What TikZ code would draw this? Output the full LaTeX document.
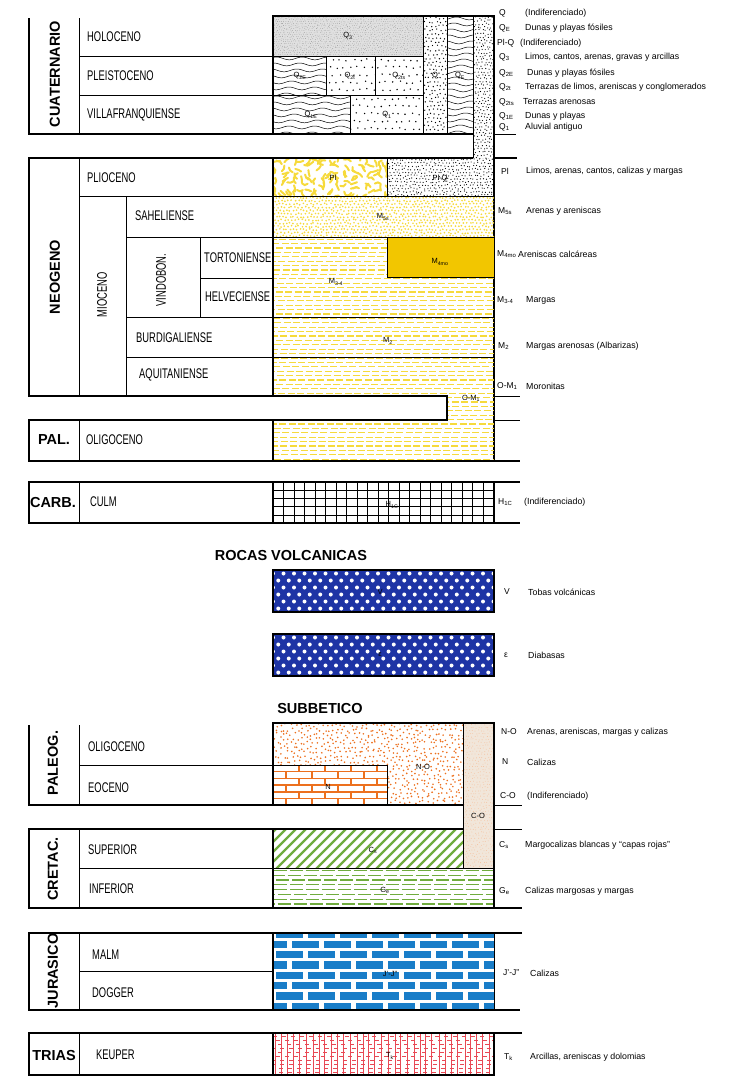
\documentclass[tikz,border=0pt]{standalone}
\usepackage{fontspec}
\setmainfont{Liberation Sans}
\newfontfamily\condfont[FakeStretch=0.67]{Liberation Sans}

\definecolor{ylw}{RGB}{246,218,60}
\definecolor{ylwsolid}{RGB}{242,198,0}
\definecolor{volcblue}{RGB}{30,52,165}
\definecolor{jurblue}{RGB}{25,125,200}
\definecolor{orng}{RGB}{236,112,30}
\definecolor{grn}{RGB}{112,172,62}
\definecolor{trred}{RGB}{232,72,84}
\definecolor{cobeige}{RGB}{241,230,218}

\tikzset{
  outline/.style={line width=1.7pt},
  divider/.style={line width=0.9pt},
  eralabel/.style={font=\bfseries\fontsize{14.5}{16}\selectfont, inner sep=0pt},
  stagelabel/.style={font=\condfont\fontsize{14}{16}\selectfont, anchor=west, inner sep=0pt},
  unitcode/.style={font=\fontsize{8.5}{10}\selectfont, anchor=west, inner sep=0pt},
  unitdesc/.style={font=\fontsize{8.8}{10}\selectfont, anchor=west, inner sep=0pt},
  boxtag/.style={font=\fontsize{7.5}{9}\selectfont, inner sep=0pt},
}

% stipple: x1,y1,x2,y2,xstep,ystep,radius,jitter,colour
\newcommand{\dotarea}[9]{%
  \begin{scope}
    \clip (#1,#2) rectangle (#3,#4);
    \pgfmathtruncatemacro{\nx}{(#3-#1)/#5+1}
    \pgfmathtruncatemacro{\ny}{(#4-#2)/#6+1}
    \foreach \i in {0,...,\nx}{
      \foreach \j in {0,...,\ny}{
        \fill[#9] ({#1+(\i+0.5*mod(\j,2))*#5+#8*rand},{#2+(\j+0.5)*#6+#8*rand}) circle (#7);
      }
    }
  \end{scope}}

% wavy lines: x1,y1,x2,y2,gap
\newcommand{\wavearea}[5]{%
  \begin{scope}
    \clip (#1,#2) rectangle (#3,#4);
    \pgfmathtruncatemacro{\nw}{(#4-#2)/#5+1}
    \foreach \k in {0,...,\nw}{
      \draw[line width=0.5pt] plot[domain=#1:#3,samples=40,smooth] (\x,{#2+#5*(\k+0.4)+1.4*sin(14*\x+37*\k)});
    }
  \end{scope}}

% dashed rows: x1,y1,x2,y2,gap,colour,on,off
\newcommand{\dasharea}[8]{%
  \begin{scope}
    \clip (#1,#2) rectangle (#3,#4);
    \pgfmathtruncatemacro{\nd}{(#4-#2)/#5}
    \foreach \k in {0,...,\nd}{
      \pgfmathsetmacro{\ph}{(#7+#8)*rnd}
      \draw[#6, line width=1.3pt, dash pattern=on #7pt off #8pt] ({#1-\ph},{#2+#5*(\k+0.5)}) -- (#3,{#2+#5*(\k+0.5)});
    }
  \end{scope}}

% open bricks: x1,y1,x2,y2,row,length,style
\newcommand{\brickarea}[7]{%
  \begin{scope}
    \clip (#1,#2) rectangle (#3,#4);
    \pgfmathtruncatemacro{\nr}{(#4-#2)/#5}
    \pgfmathtruncatemacro{\nb}{(#3-#1)/#6+1}
    \foreach \k in {0,...,\nr}{
      \draw[#7] (#1,{#2+\k*#5}) -- (#3,{#2+\k*#5});
      \foreach \m in {0,...,\nb}
        \draw[#7] ({#1+(\m+0.5*mod(\k,2))*#6},{#2+\k*#5}) -- ++(0,#5);
    }
  \end{scope}}

% solid blocks: x1,y1,x2,y2,row,length,gap,colour
\newcommand{\blockarea}[8]{%
  \begin{scope}
    \clip (#1,#2) rectangle (#3,#4);
    \pgfmathtruncatemacro{\nr}{(#4-#2)/#5+1}
    \pgfmathtruncatemacro{\nb}{(#3-#1)/#6+1}
    \foreach \k in {0,...,\nr}{
      \foreach \m in {-1,...,\nb}
        \fill[#8] ({#1+(\m+0.5*mod(\k,2))*#6+#7/2},{#2-4+\k*#5+1.5}) rectangle ++({#6-#7},{#5-3});
    }
  \end{scope}}

\begin{document}
\begin{tikzpicture}[x=1pt,y=-1pt]
\useasboundingbox (0,0) rectangle (745,1077);
\pgfmathsetseed{11}

% ---------- Cuaternario
\fill[black!12] (273,16) rectangle (423,56);
\dotarea{273}{16}{423}{56}{2.2}{2.2}{0.35}{0.6}{black!45}
\wavearea{273}{56}{326}{95}{6}
\wavearea{273}{95}{350}{134}{6}
\wavearea{447}{16}{473}{134}{6}
\dotarea{326}{56}{375}{95}{7}{7.5}{0.8}{1.2}{black}
\dotarea{375}{56}{423}{95}{7}{7.5}{0.8}{1.2}{black}
\dotarea{350}{95}{423}{134}{7}{7.5}{0.8}{1.2}{black}
\dotarea{423}{16}{447}{134}{4}{4}{0.7}{1}{black}
\dotarea{473}{16}{494}{158}{3.2}{3.2}{0.6}{0.9}{black}
\dotarea{387}{158}{494}{196}{3.2}{3.2}{0.6}{0.9}{black}

\draw[outline] (29,18) -- (29,134) -- (473,134);
\draw[outline] (273,134) -- (273,16) -- (494,16) -- (494,461);
\draw[divider] (79,18) -- (79,134) (79,56) -- (423,56) (79,95) -- (423,95);
\draw[divider] (326,56) -- (326,95) (375,56) -- (375,95) (350,95) -- (350,134);
\draw[divider] (423,16) -- (423,134) (447,16) -- (447,134) (473,16) -- (473,158);
\draw[divider] (494,134) -- (516,134);

% ---------- Neogeno y Paleogeno
\begin{scope}
  \clip (273,158) rectangle (387,196);
  \foreach \i in {0,...,16}{
    \foreach \j in {0,...,6}{
      \pgfmathsetmacro{\ang}{360*rnd}
      \draw[ylw, line width=2pt, line cap=round] ({275+\i*7+2*rand},{160+\j*6+2*rand}) -- ++(\ang:3.2) -- ++({\ang+60*rand}:3.2);
    }
  }
\end{scope}
\dotarea{273}{196}{494}{237}{3.4}{3.2}{0.95}{0.8}{ylw}
\dasharea{273}{237}{494}{461}{4.4}{ylw}{7}{2.5}
\fill[white] (273,396) rectangle (447,420);
\fill[ylwsolid] (387,237) rectangle (494,277);

\draw[outline] (473,158) -- (29,158) -- (29,396) -- (447,396) -- (447,420) -- (29,420) -- (29,461) -- (520,461);
\draw[outline] (494,158) -- (517,158);
\draw[divider] (79,158) -- (79,396) (126,196) -- (126,396) (200,237) -- (200,317);
\draw[divider] (79,196) -- (494,196) (126,237) -- (494,237) (200,278) -- (273,278);
\draw[divider] (126,317) -- (494,317) (126,357) -- (494,357) (387,158) -- (387,196);
\draw[divider] (387,237) rectangle (494,277);
\draw[line width=1.2pt] (273,158) -- (273,396) (273,420) -- (273,461);
\draw[divider] (79,420) -- (79,461) (494,396) -- (520,396) (494,420) -- (520,420);

% ---------- Carbonifero
\foreach \gx in {273,283.5,...,494} \draw[line width=0.6pt] (\gx,482) -- (\gx,523);
\foreach \gy in {482,490.2,...,523} \draw[line width=0.6pt] (273,\gy) -- (494,\gy);
\draw[outline] (29,482) rectangle (494,523);
\draw[outline] (494,482) -- (520,482) (494,523) -- (520,523);
\draw[divider] (79,482) -- (79,523);
\draw[line width=1.2pt] (273,482) -- (273,523);

% ---------- Rocas volcanicas
\fill[volcblue] (273,570) rectangle (494,612);
\dotarea{273}{570}{494}{612}{10.5}{7}{2}{0}{white}
\fill[volcblue] (273,634) rectangle (494,676);
\dotarea{273}{634}{494}{676}{10.5}{7}{2}{0}{white}
\draw[outline] (273,570) rectangle (494,612);
\draw[outline] (273,634) rectangle (494,676);

% ---------- Subbetico
\dotarea{273}{723}{463}{805}{4.5}{4.5}{0.9}{1.8}{orng}
\fill[white] (273,765) rectangle (387,805);
\brickarea{273}{765}{387}{805}{6.7}{26}{orng, line width=1.4pt}
\fill[cobeige] (463,723) rectangle (494,868);
\dotarea{463}{723}{494}{868}{3}{3}{0.45}{0.8}{orng!45}
\begin{scope}
  \clip (273,829) rectangle (463,868);
  \foreach \xx in {225,235,...,465} \draw[grn, line width=2.4pt] (\xx,870) -- ++(42,-42);
\end{scope}
\dasharea{273}{868}{494}{908}{4.8}{grn}{13}{3}

\draw[outline] (29,725) -- (29,805) -- (463,805);
\draw[outline] (273,805) -- (273,723) -- (494,723) -- (494,908);
\draw[divider] (79,725) -- (79,805) (79,765) -- (387,765) -- (387,805) (463,723) -- (463,868);
\draw[divider] (494,805) -- (522,805) (494,829) -- (522,829);
\draw[outline] (463,829) -- (29,829) -- (29,908) -- (522,908);
\draw[divider] (79,829) -- (79,908) (79,868) -- (494,868);
\draw[line width=1.2pt] (273,829) -- (273,908);

% ---------- Jurasico y Trias
\blockarea{273}{933}{494}{1010}{10.3}{32}{5}{jurblue}
\begin{scope}
  \clip (273,1033) rectangle (494,1075);
  \foreach \k in {0,...,10}{
    \pgfmathsetmacro{\ph}{9*rnd}
    \draw[trred, line width=0.8pt, dash pattern=on 4pt off 5pt] ({273-\ph},{1036+\k*4}) -- (494,{1036+\k*4});
  }
  \foreach \i in {0,...,34} \draw[trred, line width=1pt] ({275+\i*6.3+rand},1033) -- ++(0,42);
\end{scope}
\draw[outline] (522,933) -- (29,933) -- (29,1010) -- (520,1010);
\draw[divider] (79,933) -- (79,1010) (79,971) -- (273,971) (494,933) -- (494,1010);
\draw[line width=1.2pt] (273,933) -- (273,1010);
\draw[outline] (522,1033) -- (29,1033) -- (29,1075) -- (494,1075) -- (494,1033);
\draw[divider] (79,1033) -- (79,1075);
\draw[line width=1.2pt] (273,1033) -- (273,1075);

% ---------- eras
\node[eralabel, rotate=90] (cuat) at (55,74) {CUATERNARIO};
\node[eralabel, rotate=90] (neog) at (55,277) {NEOGENO};
\node[eralabel] (pal) at (54,440) {PAL.};
\node[eralabel] (carb) at (53,502) {CARB.};
\node[eralabel] (volc) at (291,555) {ROCAS VOLCANICAS};
\node[eralabel] (subb) at (320,708) {SUBBETICO};
\node[eralabel, rotate=90] (paleog) at (53,763) {PALEOG.};
\node[eralabel, rotate=90] (cretac) at (53,869) {CRETAC.};
\node[eralabel, rotate=90] (jur) at (53,971) {JURASICO};
\node[eralabel] (trias) at (54,1055) {TRIAS};

% ---------- pisos
\node[stagelabel] (holo) at (87,37) {HOLOCENO};
\node[stagelabel] (pleis) at (87,76) {PLEISTOCENO};
\node[stagelabel] (villa) at (87,115) {VILLAFRANQUIENSE};
\node[stagelabel] (plio) at (87,178) {PLIOCENO};
\node[stagelabel, anchor=center, rotate=90] (mio) at (102,295) {MIOCENO};
\node[stagelabel, anchor=center, rotate=90] (vindo) at (161,280) {VINDOBON.};
\node[stagelabel] (sahel) at (135,216) {SAHELIENSE};
\node[stagelabel] (torto) at (204,258) {TORTONIENSE};
\node[stagelabel] (helve) at (205,297) {HELVECIENSE};
\node[stagelabel] (burdi) at (136,338) {BURDIGALIENSE};
\node[stagelabel] (aquit) at (139,375) {AQUITANIENSE};
\node[stagelabel] (oligo) at (86,440) {OLIGOCENO};
\node[stagelabel] (culm) at (90,502) {CULM};
\node[stagelabel] (soligo) at (88,747) {OLIGOCENO};
\node[stagelabel] (seoc) at (88,788) {EOCENO};
\node[stagelabel] (ssup) at (88,850) {SUPERIOR};
\node[stagelabel] (sinf) at (89,889) {INFERIOR};
\node[stagelabel] (malm) at (92,955) {MALM};
\node[stagelabel] (dogg) at (92,993) {DOGGER};
\node[stagelabel] (keup) at (96,1055) {KEUPER};

% ---------- etiquetas en las columnas
\node[boxtag] (tq3) at (348,36) {Q\textsubscript{3}};
\node[boxtag] (tq2e) at (300,76) {Q\textsubscript{2E}};
\node[boxtag] (tq2t) at (350,76) {Q\textsubscript{2t}};
\node[boxtag] (tq2ts) at (399,76) {Q\textsubscript{2ts}};
\node[boxtag] (tq) at (435,76) {Q};
\node[boxtag] (tqe) at (460,76) {Q\textsubscript{E}};
\node[boxtag] (tq1e) at (311,115) {Q\textsubscript{1E}};
\node[boxtag] (tq1) at (387,115) {Q\textsubscript{1}};
\node[boxtag] (tpl) at (333,178) {Pl};
\node[boxtag] (tplq) at (440,178) {Pl-Q};
\node[boxtag] (tm5) at (383,217) {M\textsubscript{5s}};
\node[boxtag] (tm4) at (440,262) {M\textsubscript{4mo}};
\node[boxtag] (tm34) at (336,282) {M\textsubscript{3-4}};
\node[boxtag] (tm2) at (388,341) {M\textsubscript{2}};
\node[boxtag] (tom) at (471,398) {O-M\textsubscript{1}};
\node[boxtag] (th1c) at (392,505) {H\textsubscript{1C}};
\node[boxtag] (tv) at (380,592) {V};
\node[boxtag] (teps) at (380,655) {ε};
\node[boxtag] (tno) at (423,767) {N-O};
\node[boxtag] (tn) at (328,787) {N};
\node[boxtag] (tco) at (478,816) {C-O};
\node[boxtag] (tcs) at (373,850) {C\textsubscript{s}};
\node[boxtag] (tge) at (385,890) {G\textsubscript{e}};
\node[boxtag] (tjj) at (390,974) {J'-J''};
\node[boxtag] (ttk) at (390,1056) {T\textsubscript{k}};

% ---------- leyenda
\node[unitcode] (kq) at (499,13) {Q};
\node[unitdesc] (dq) at (525,13) {(Indiferenciado)};
\node[unitcode] (kqe) at (499,28) {Q\textsubscript{E}};
\node[unitdesc] (dqe) at (525,28) {Dunas y playas fósiles};
\node[unitcode] (kplq) at (497,43) {Pl-Q};
\node[unitdesc] (dplq) at (520,43) {(Indiferenciado)};
\node[unitcode] (kq3) at (499,57) {Q\textsubscript{3}};
\node[unitdesc] (dq3) at (525,57) {Limos, cantos, arenas, gravas y arcillas};
\node[unitcode] (kq2e) at (499,73) {Q\textsubscript{2E}};
\node[unitdesc] (dq2e) at (527,73) {Dunas y playas fósiles};
\node[unitcode] (kq2t) at (499,87) {Q\textsubscript{2t}};
\node[unitdesc] (dq2t) at (525,87) {Terrazas de limos, areniscas y conglomerados};
\node[unitcode] (kq2ts) at (499,102) {Q\textsubscript{2ts}};
\node[unitdesc] (dq2ts) at (523,102) {Terrazas arenosas};
\node[unitcode] (kq1e) at (499,116) {Q\textsubscript{1E}};
\node[unitdesc] (dq1e) at (525,116) {Dunas y playas};
\node[unitcode] (kq1) at (499,127) {Q\textsubscript{1}};
\node[unitdesc] (dq1) at (525,127) {Aluvial antiguo};

\node[unitcode] (kpl) at (501,171) {Pl};
\node[unitdesc] (dpl) at (526,171) {Limos, arenas, cantos, calizas y margas};
\node[unitcode] (km5) at (498,211) {M\textsubscript{5s}};
\node[unitdesc] (dm5) at (526,211) {Arenas y areniscas};
\node[unitcode] (km4) at (497,254) {M\textsubscript{4mo}};
\node[unitdesc] (dm4) at (518,254) {Areniscas calcáreas};
\node[unitcode] (km34) at (497,300) {M\textsubscript{3-4}};
\node[unitdesc] (dm34) at (526,300) {Margas};
\node[unitcode] (km2) at (498,346) {M\textsubscript{2}};
\node[unitdesc] (dm2) at (526,346) {Margas arenosas (Albarizas)};
\node[unitcode] (kom) at (497,386) {O-M\textsubscript{1}};
\node[unitdesc] (dom) at (526,386) {Moronitas};
\node[unitcode] (kh1c) at (498,502) {H\textsubscript{1C}};
\node[unitdesc] (dh1c) at (524,502) {(Indiferenciado)};

\node[unitcode] (kv) at (504,592) {V};
\node[unitdesc] (dv) at (528,592) {Tobas volcánicas};
\node[unitcode] (keps) at (504,655) {ε};
\node[unitdesc] (deps) at (528,655) {Diabasas};

\node[unitcode] (kno) at (501,732) {N-O};
\node[unitdesc] (dno) at (527,732) {Arenas, areniscas, margas y calizas};
\node[unitcode] (kn) at (502,762) {N};
\node[unitdesc] (dn) at (527,762) {Calizas};
\node[unitcode] (kco) at (500,796) {C-O};
\node[unitdesc] (dco) at (527,796) {(Indiferenciado)};
\node[unitcode] (kcs) at (499,845) {C\textsubscript{s}};
\node[unitdesc] (dcs) at (525,845) {Margocalizas blancas y ``capas rojas''};
\node[unitcode] (kge) at (499,891) {G\textsubscript{e}};
\node[unitdesc] (dge) at (525,891) {Calizas margosas y margas};
\node[unitcode] (kjj) at (503,973) {J'-J''};
\node[unitdesc] (djj) at (530,973) {Calizas};
\node[unitcode] (ktk) at (504,1057) {T\textsubscript{k}};
\node[unitdesc] (dtk) at (530,1057) {Arcillas, areniscas y dolomias};
\end{tikzpicture}
\end{document}
